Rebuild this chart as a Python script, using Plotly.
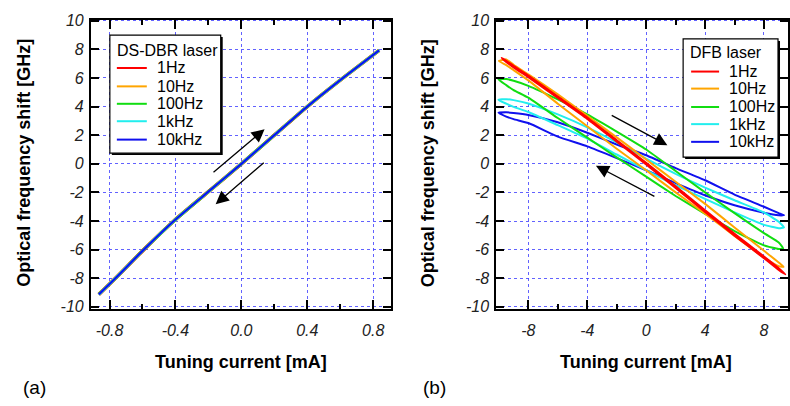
import plotly.graph_objects as go

W, H = 790, 406

# ---- DS-DBR laser: tuning current [mA] vs optical frequency shift [GHz]
DSDBR_I = [-0.865, -0.764, -0.592, -0.41, -0.2, 0.0, 0.2, 0.4, 0.6, 0.836]
DSDBR_F = [-9.13, -8.0, -6.0, -4.0, -1.95, 0.0, 2.0, 4.0, 5.85, 7.93]

# ---- DFB laser hysteresis loops
SERIES = ["1Hz", "10Hz", "100Hz", "1kHz", "10kHz"]
COLORS = ["#ff0000", "#ffa500", "#11dd11", "#22eeee", "#1010ee"]

# currents at which both branches are sampled
DFB_I = [-9.5, -9.0, -8.0, -6.0, -4.0, -2.0, 0.0, 2.0, 4.0, 6.0, 8.0, 9.0]

# loop end points (current, shift)
TIP_L_I = [-9.81, -10.0, -10.03, -10.03, -10.03]
TIP_L_F = [7.41, 7.19, 5.9, 4.47, 3.57]
TIP_R_I = [9.45, 9.33, 9.3, 9.36, 9.36]
TIP_R_F = [-7.73, -7.2, -5.92, -4.45, -3.59]

# upper branch (rising current) and lower branch (falling current)
UP_1HZ = [7.2, 6.84, 6.16, 4.7, 3.24, 1.65, 0.07, -1.57, -3.25, -4.9, -6.48, -7.3]
LO_1HZ = [7.12, 6.74, 6.06, 4.6, 3.14, 1.55, -0.05, -1.69, -3.37, -5.02, -6.6, -7.42]
UP_10HZ = [7.3, 6.92, 6.25, 4.85, 3.35, 1.85, 0.3, -1.25, -2.8, -4.45, -6.08, -6.9]
LO_10HZ = [6.9, 6.55, 5.83, 4.2, 2.62, 1.05, -0.45, -2.0, -3.48, -5.05, -6.55, -7.15]
UP_100HZ = [5.92, 5.8, 5.45, 4.5, 3.45, 2.25, 1.0, -0.5, -2.0, -3.45, -4.85, -5.5]
LO_100HZ = [5.5, 5.15, 4.62, 3.2, 1.83, 0.45, -0.9, -2.25, -3.5, -4.7, -5.7, -5.95]
UP_1KHZ = [4.52, 4.45, 4.22, 3.45, 2.55, 1.5, 0.36, -0.7, -1.67, -2.55, -3.4, -4.05]
LO_1KHZ = [4.2, 3.98, 3.62, 2.7, 1.76, 0.65, -0.45, -1.5, -2.45, -3.4, -4.27, -4.5]
UP_10KHZ = [3.6, 3.55, 3.41, 2.9, 2.17, 1.35, 0.6, -0.3, -1.15, -2.15, -3.0, -3.45]
LO_10KHZ = [3.3, 3.12, 2.85, 1.9, 1.22, 0.4, -0.45, -1.35, -2.2, -2.9, -3.42, -3.6]

UPPER = [UP_1HZ, UP_10HZ, UP_100HZ, UP_1KHZ, UP_10KHZ]
LOWER = [LO_1HZ, LO_10HZ, LO_100HZ, LO_1KHZ, LO_10KHZ]

# ticks
Y_TICKS = [-10, -8, -6, -4, -2, 0, 2, 4, 6, 8, 10]
Y_TEXT = ["-10", "-8", "-6", "-4", "-2", "0", "2", "4", "6", "8", "10"]
XA_TICKS = [-0.8, -0.4, 0.0, 0.4, 0.8]
XA_TEXT = ["-0.8", "-0.4", "0.0", "0.4", "0.8"]
XB_TICKS = [-8, -4, 0, 4, 8]
XB_TEXT = ["-8", "-4", "0", "4", "8"]

FONT = "Liberation Sans, Arial, sans-serif"


def fx(px):
    return px / W


def fy(py):
    return 1 - py / H


fig = go.Figure()

# left panel: the five traces coincide, blue drawn last
widths_a = [3.6, 3.3, 3.0, 2.7, 2.2]
for name, col, w in zip(SERIES, COLORS, widths_a):
    fig.add_trace(go.Scatter(x=DSDBR_I, y=DSDBR_F, mode="lines", name=name,
                             line=dict(color=col, width=w, shape="spline", smoothing=0.6),
                             xaxis="x", yaxis="y", showlegend=False))

# right panel: closed loops, red on top
for k in reversed(range(len(SERIES))):
    xs = [TIP_L_I[k]] + DFB_I + [TIP_R_I[k]] + DFB_I[::-1] + [TIP_L_I[k]]
    ys = [TIP_L_F[k]] + UPPER[k] + [TIP_R_F[k]] + LOWER[k][::-1] + [TIP_L_F[k]]
    fig.add_trace(go.Scatter(x=xs, y=ys, mode="lines", name=SERIES[k],
                             line=dict(color=COLORS[k], width=2, shape="spline", smoothing=0.45),
                             xaxis="x2", yaxis="y2", showlegend=False))

grid = dict(showgrid=True, gridcolor="rgba(70,70,255,0.85)", gridwidth=1, griddash="dot")
tickfont = dict(family=FONT, size=16, color="#222", style="italic")
common_x = dict(showline=True, linewidth=2, linecolor="black", mirror="allticks",
                ticks="inside", ticklen=9, tickwidth=1.5, tickcolor="black",
                tickfont=tickfont, zeroline=False, ticklabelstandoff=6, **grid)
common_y = dict(showline=True, linewidth=2, linecolor="black", mirror="ticks",
                ticks="inside", ticklen=8, tickwidth=1.5, tickcolor="black",
                tickfont=tickfont, zeroline=False, tickmode="array",
                tickvals=Y_TICKS, ticktext=Y_TEXT, range=[-10.15, 10.08],
                ticklabelstandoff=2, **grid)

ydom = [fy(312), fy(13)]
fig.update_layout(
    width=W, height=H, margin=dict(l=0, r=0, t=0, b=0),
    paper_bgcolor="white", plot_bgcolor="white", showlegend=False,
    xaxis=dict(domain=[fx(91), fx(391)], anchor="y", range=[-0.913, 0.905],
               tickmode="array", tickvals=XA_TICKS, ticktext=XA_TEXT,
               minor=dict(ticks="inside", ticklen=5, tickwidth=1.5, tickcolor="black",
                          tickvals=[-0.6, -0.2, 0.2, 0.6], showgrid=False),
               **common_x),
    yaxis=dict(domain=ydom, anchor="x", **common_y),
    xaxis2=dict(domain=[fx(497), fx(789)], anchor="y2", range=[-10.17, 9.63],
                tickmode="array", tickvals=XB_TICKS, ticktext=XB_TEXT,
                minor=dict(ticks="inside", ticklen=5, tickwidth=1.5, tickcolor="black",
                           tickvals=[-6, -2, 2, 6], showgrid=False),
                **common_x),
    yaxis2=dict(domain=ydom, anchor="x2", **common_y),
)

ann = []
shapes = []

# axis titles and panel labels
title_font = dict(family=FONT, size=18, color="black")
for cx in (241, 647):
    ann.append(dict(x=fx(cx), y=fy(367), xref="paper", yref="paper", showarrow=False,
                    text="<b>Tuning current [mA]</b>", font=title_font,
                    xanchor="center", yanchor="middle"))
for cx in (24, 428):
    ann.append(dict(x=fx(cx), y=fy(161), xref="paper", yref="paper", showarrow=False,
                    text="<b>Optical frequency shift [GHz]</b>", font=title_font,
                    textangle=-90, xanchor="center", yanchor="middle"))
for cx, lab in ((35, "(a)"), (435, "(b)")):
    ann.append(dict(x=fx(cx), y=fy(393), xref="paper", yref="paper", showarrow=False,
                    text=lab, font=dict(family=FONT, size=19, color="black"),
                    xanchor="center", yanchor="middle"))

# sweep direction arrows (head, tail) in data units
ARROWS_A = [((0.141, 2.42), (-0.178, -0.68)), ((-0.156, -2.82), (0.145, 0.16))]
ARROWS_B = [((1.44, 1.30), (-2.44, 3.44)), ((-3.41, -0.13), (0.66, -2.33))]
for arrows, xr, yr in ((ARROWS_A, "x", "y"), (ARROWS_B, "x2", "y2")):
    for (hx, hy), (tx, ty) in arrows:
        ann.append(dict(x=hx, y=hy, ax=tx, ay=ty, xref=xr, yref=yr, axref=xr, ayref=yr,
                        text="", showarrow=True, arrowhead=2, arrowsize=2.0,
                        arrowwidth=1.3, arrowcolor="black"))

# legend boxes
LEGENDS = [
    dict(title="DS-DBR laser", box=(110, 29, 221, 151), title_x=115, title_y=45,
         line_x=(117, 147), text_x=155, rows=[63, 82, 100, 118, 137]),
    dict(title="DFB laser", box=(684, 33, 779, 155), title_x=689, title_y=47,
         line_x=(692, 720), text_x=728, rows=[66.7, 84.3, 103.3, 121, 139.3]),
]
leg_font = dict(family=FONT, size=16, color="black")
for lg in LEGENDS:
    x0, y0, x1, y1 = lg["box"]
    shapes.append(dict(type="rect", xref="paper", yref="paper",
                       x0=fx(x0 + 2), x1=fx(x1 + 2), y0=fy(y1 + 2), y1=fy(y0 + 2),
                       fillcolor="black", line=dict(width=0), layer="above"))
    shapes.append(dict(type="rect", xref="paper", yref="paper",
                       x0=fx(x0), x1=fx(x1), y0=fy(y1), y1=fy(y0),
                       fillcolor="white", line=dict(color="black", width=1.2), layer="above"))
    ann.append(dict(x=fx(lg["title_x"]), y=fy(lg["title_y"]), xref="paper", yref="paper",
                    text=lg["title"], showarrow=False, font=leg_font,
                    xanchor="left", yanchor="middle"))
    for name, col, ry in zip(SERIES, COLORS, lg["rows"]):
        shapes.append(dict(type="line", xref="paper", yref="paper",
                           x0=fx(lg["line_x"][0]), x1=fx(lg["line_x"][1]),
                           y0=fy(ry), y1=fy(ry), line=dict(color=col, width=2), layer="above"))
        ann.append(dict(x=fx(lg["text_x"]), y=fy(ry), xref="paper", yref="paper",
                        text=name, showarrow=False, font=leg_font,
                        xanchor="left", yanchor="middle"))

fig.update_layout(annotations=ann, shapes=shapes)
fig.write_html("out.html")
